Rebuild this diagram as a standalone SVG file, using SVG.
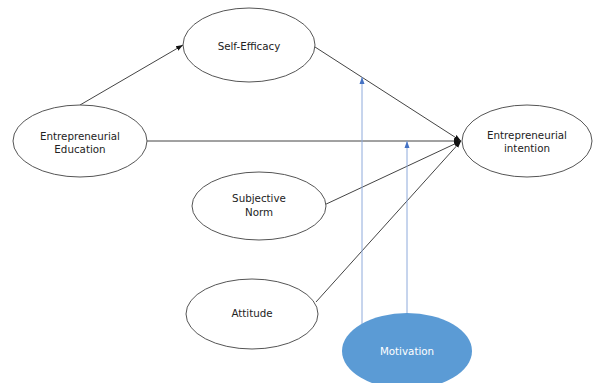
<svg xmlns="http://www.w3.org/2000/svg" width="594" height="383" viewBox="0 0 594 383">
<style>
.n{fill:#fff;stroke:#555;stroke-width:1}
.t{font-family:"DejaVu Sans",Verdana,sans-serif;font-size:10.3px;fill:#222;text-anchor:middle}
.c{stroke:#444;stroke-width:1;fill:none}
.b{stroke:#8eaadb;stroke-width:1;fill:none}
</style>
<defs>
<marker id="ak" markerWidth="8" markerHeight="8" refX="7" refY="4" orient="auto" markerUnits="userSpaceOnUse"><path d="M0,1.5 L7,4 L0,6.5z" fill="#111"/></marker>
<marker id="ab" markerWidth="8" markerHeight="8" refX="7" refY="3" orient="auto" markerUnits="userSpaceOnUse"><path d="M0,0.5 L7,3 L0,5.5z" fill="#4472c4"/></marker>
</defs>
<g id="connectors">
<line class="c" x1="80" y1="105" x2="183" y2="45" marker-end="url(#ak)"/>
<line class="c" x1="315" y1="47" x2="461" y2="141" marker-end="url(#ak)"/>
<line class="c" x1="147" y1="141" x2="461" y2="141" marker-end="url(#ak)"/>
<line class="c" x1="322" y1="206" x2="461" y2="141" marker-end="url(#ak)"/>
<line class="c" x1="316" y1="302" x2="461" y2="141" marker-end="url(#ak)"/>
<line class="b" x1="362" y1="324" x2="362" y2="77" marker-end="url(#ab)"/>
<line class="b" x1="407" y1="313" x2="407" y2="141" marker-end="url(#ab)"/>
</g>
<g id="self-efficacy"><ellipse class="n" cx="249" cy="45" rx="66" ry="37"/><text class="t" x="249" y="50">Self-Efficacy</text></g>
<g id="entrepreneurial-education"><ellipse class="n" cx="80" cy="141" rx="67" ry="36"/><text class="t" x="80" y="140">Entrepreneurial</text><text class="t" x="80" y="153">Education</text></g>
<g id="entrepreneurial-intention"><ellipse class="n" cx="527" cy="141" rx="65" ry="36"/><text class="t" x="527" y="139">Entrepreneurial</text><text class="t" x="527" y="152">intention</text></g>
<g id="subjective-norm"><ellipse class="n" cx="259" cy="206" rx="67" ry="34"/><text class="t" x="259" y="202">Subjective</text><text class="t" x="259" y="216">Norm</text></g>
<g id="attitude"><ellipse class="n" cx="252" cy="314" rx="66" ry="35"/><text class="t" x="252" y="317">Attitude</text></g>
<g id="motivation"><ellipse cx="407" cy="351" rx="65" ry="38" fill="#5b9bd5"/><text class="t" x="407" y="355" style="fill:#fff">Motivation</text></g>
</svg>
